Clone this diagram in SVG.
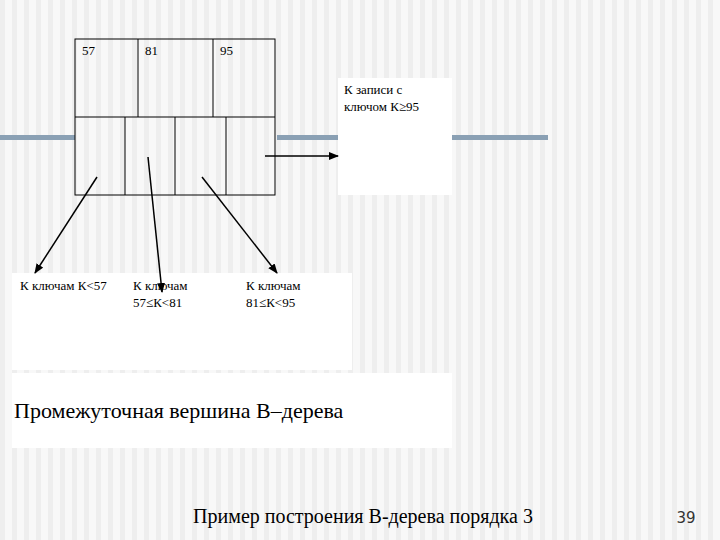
<svg xmlns="http://www.w3.org/2000/svg" width="720" height="540" viewBox="0 0 720 540">
<defs>
<pattern id="st" width="12" height="540" patternUnits="userSpaceOnUse"><rect width="12" height="540" fill="#f8f8f8"/><rect width="5" height="540" fill="#eeeeee"/></pattern>
<marker id="ah" markerWidth="10" markerHeight="8" refX="9" refY="4" orient="auto" markerUnits="userSpaceOnUse"><path d="M0,0 L10,4 L0,8 Z" fill="#000"/></marker>
</defs>
<style>
text{font-family:"Liberation Serif","Times New Roman",serif;fill:#000}
.t{font-size:13px}
.c{fill:none;stroke:#000;stroke-width:1}
.a{stroke:#000;stroke-width:1.5;marker-end:url(#ah)}
</style>
<rect width="720" height="540" fill="url(#st)"/>
<g fill="#8aa0b4"><rect x="0" y="135" width="75" height="5"/><rect x="277" y="135" width="61" height="5"/><rect x="452" y="135" width="96" height="5"/></g>
<g id="node">
<rect x="75" y="39" width="200" height="156" fill="#fff" class="c"/>
<line x1="75" y1="117" x2="275" y2="117" class="c"/>
<line x1="138" y1="39" x2="138" y2="117" class="c"/>
<line x1="213" y1="39" x2="213" y2="117" class="c"/>
<line x1="125" y1="117" x2="125" y2="195" class="c"/>
<line x1="175" y1="117" x2="175" y2="195" class="c"/>
<line x1="226" y1="117" x2="226" y2="195" class="c"/>
<text class="t" x="82" y="55" font-family="Liberation Serif, serif">57</text><text class="t" x="145" y="55" font-family="Liberation Serif, serif">81</text><text class="t" x="220" y="55" font-family="Liberation Serif, serif">95</text>
</g>
<g id="rec"><rect x="338" y="78" width="114" height="117" fill="#fff"/>
<text class="t" x="344" y="94" font-family="Liberation Serif, serif">К записи с</text><text class="t" x="344" y="111" font-family="Liberation Serif, serif">ключом К≥95</text></g>
<g id="children"><rect x="12" y="273" width="340" height="97" fill="#fff"/>
<text class="t" x="20" y="290" font-family="Liberation Serif, serif">К ключам К&lt;57</text>
<text class="t" x="133" y="290" font-family="Liberation Serif, serif">К  ключам</text><text class="t" x="133" y="307" font-family="Liberation Serif, serif">57≤К&lt;81</text>
<text class="t" x="246" y="290" font-family="Liberation Serif, serif">К ключам</text><text class="t" x="246" y="307" font-family="Liberation Serif, serif">81≤К&lt;95</text></g>
<g id="caption"><rect x="12" y="373" width="440" height="75" fill="#fff"/>
<text x="14" y="418" font-size="22" font-family="Liberation Serif, serif">Промежуточная вершина B–дерева</text></g>
<g id="connectors">
<line x1="265" y1="156" x2="338" y2="156" class="a"/>
<line x1="97" y1="177" x2="35" y2="273" class="a"/>
<line x1="148" y1="157" x2="162" y2="292" class="a"/>
<line x1="202" y1="177" x2="277" y2="273" class="a"/>
</g>
<text x="363" y="523" text-anchor="middle" font-size="20" font-family="Liberation Serif, serif">Пример построения B-дерева порядка 3</text>
<text x="686" y="523" text-anchor="middle" font-size="15" font-family="DejaVu Sans, sans-serif" style="font-family:'DejaVu Sans',sans-serif;fill:#333">39</text>
</svg>
